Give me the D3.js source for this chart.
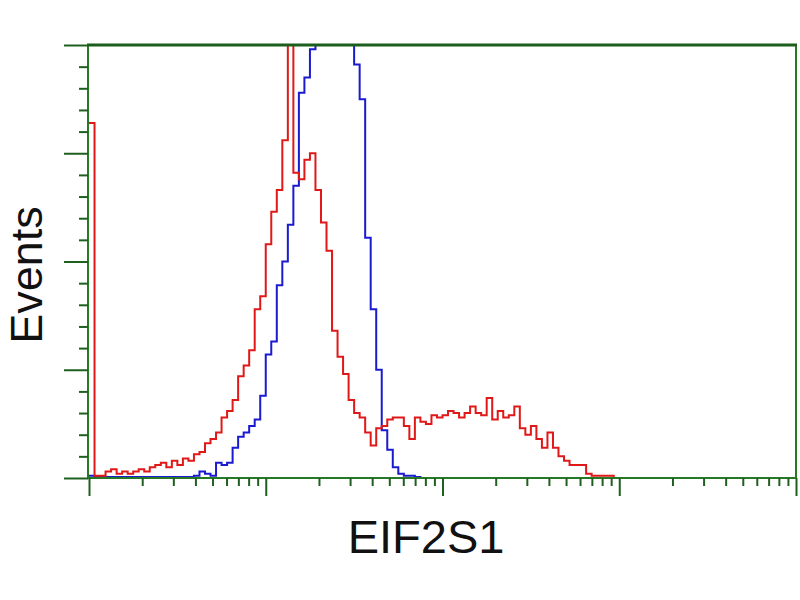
<!DOCTYPE html>
<html>
<head>
<meta charset="utf-8">
<script src="https://cdnjs.cloudflare.com/ajax/libs/d3/7.8.5/d3.min.js"></script>
<style>
  body { margin: 0; background: #fff; }
  svg { display: block; font-family: 'Liberation Sans', Arial, sans-serif; }
</style>
</head>
<body>
<svg class="histo" width="800" height="600"></svg>
<script>
// 128 log channels over 4 decades (1 .. 10^4)
var decades = [1, 10, 100, 1000, 10000]
var nBins = 128

// events per channel
var redCounts = [
  164, 1, 1, 3, 4, 2, 3, 2, 3, 4, 3, 5, 6, 7, 5, 8, 6, 9, 8, 11,
  12, 16, 18, 21, 28, 31, 36, 47, 52, 59, 78, 84, 108, 123, 133, 156, 215, 141, 138, 147,
  150, 133, 118, 105, 68, 56, 48, 36, 30, 28, 21, 15, 23, 24, 27, 28, 28, 24, 18, 28,
  26, 25, 29, 28, 29, 31, 30, 28, 30, 33, 30, 29, 37, 27, 31, 28, 29, 33, 23, 20,
  24, 18, 14, 21, 14, 10, 8, 6, 6, 6, 2, 1, 1, 1, 1
]
var blueCounts = [
  1, 0.5, 0.5, 0.5, 0.5, 0.5, 0.5, 0.5, 0.5, 0.5, 0.5, 0.5, 0.5, 0.5, 0.5, 0.5, 0.5, 0.5, 0.5, 1,
  3, 2, 1, 7, 6, 7, 14, 19, 21, 24, 27, 38, 57, 63, 89, 100, 117, 135, 178, 185,
  198, 220, 230, 240, 240, 235, 225, 205, 191, 175, 111, 78, 50, 22, 13, 5, 2, 1, 1, 0.5
]
var yTicks = [0, 50, 100, 150, 200]

var xLabel = 'EIF2S1'
var yLabel = 'Events'

const svg = d3.select('.histo')
const mLeft = 88, mRight = 796, mTop = 45, mBottom = 478

const xScale = d3.scaleLog().domain([1, 10000]).range([mLeft + 1, mRight])
const yScale = d3.scaleLinear().domain([0, 200]).range([mBottom, mTop])

function binEdge(i) {
  return Math.pow(10, (i * 4) / nBins)
}

// stepped outline from the counts
function stepPoints(counts) {
  var pts = []
  counts.forEach(function(c, i) {
    pts.push([binEdge(i), c])
  })
  pts.push([binEdge(counts.length), 0])
  return pts
}

svg.append('clipPath').attr('id', 'plot')
  .append('rect')
  .attr('x', mLeft).attr('y', mTop)
  .attr('width', mRight - mLeft).attr('height', mBottom - mTop)

const line = d3.line()
  .x(d => xScale(d[0]))
  .y(d => yScale(d[1]))
  .curve(d3.curveStepAfter)

const plot = svg.append('g').attr('clip-path', 'url(#plot)')

plot.append('path')
  .attr('d', line(stepPoints(blueCounts)))
  .attr('fill', 'none')
  .attr('stroke', '#1a1ad0')
  .attr('stroke-width', 2)

plot.append('path')
  .attr('d', line(stepPoints(redCounts)))
  .attr('fill', 'none')
  .attr('stroke', '#e01818')
  .attr('stroke-width', 2)

//frame
svg.append('rect')
  .attr('x', mLeft).attr('y', mTop)
  .attr('width', mRight - mLeft).attr('height', mBottom - mTop)
  .attr('fill', 'none')
  .attr('stroke', '#267a26')
  .attr('stroke-width', 2)
svg.append('line')
  .attr('x1', mLeft - 1).attr('x2', mRight + 1)
  .attr('y1', mTop).attr('y2', mTop)
  .attr('stroke', '#1b5e1b')
  .attr('stroke-width', 3)

// left axis: major ticks + 4 minor between
var minorY = d3.range(0, 201, 10).filter(v => yTicks.indexOf(v) < 0)
svg.append('g')
  .attr('transform', `translate(${mLeft}, 0)`)
  .call(d3.axisLeft(yScale).tickValues(minorY).tickSize(9).tickFormat(''))
  .call(g => g.select('.domain').remove())
svg.append('g')
  .attr('transform', `translate(${mLeft}, 0)`)
  .call(d3.axisLeft(yScale).tickValues(yTicks).tickSize(24).tickFormat(''))
  .call(g => g.select('.domain').remove())

// bottom axis, log
var minorX = []
decades.slice(0, -1).forEach(function(d) {
  for (var k = 2; k < 10; k++) minorX.push(d * k)
})
svg.append('g')
  .attr('transform', `translate(0, ${mBottom})`)
  .call(d3.axisBottom(xScale).tickValues(minorX).tickSize(8).tickFormat(''))
  .call(g => g.select('.domain').remove())
svg.append('g')
  .attr('transform', `translate(0, ${mBottom})`)
  .call(d3.axisBottom(xScale).tickValues(decades).tickSize(18).tickFormat(''))
  .call(g => g.select('.domain').remove())

svg.selectAll('.tick line')
  .attr('stroke', '#1f5f1f')
  .attr('stroke-width', 2)

//labels
svg.append('text')
  .attr('x', 426)
  .attr('y', 553)
  .attr('text-anchor', 'middle')
  .attr('font-size', 47)
  .attr('fill', '#111')
  .text(xLabel)

svg.append('text')
  .attr('transform', 'translate(42, 275) rotate(-90)')
  .attr('text-anchor', 'middle')
  .attr('font-size', 45)
  .attr('fill', '#111')
  .text(yLabel)
</script>
</body>
</html>
